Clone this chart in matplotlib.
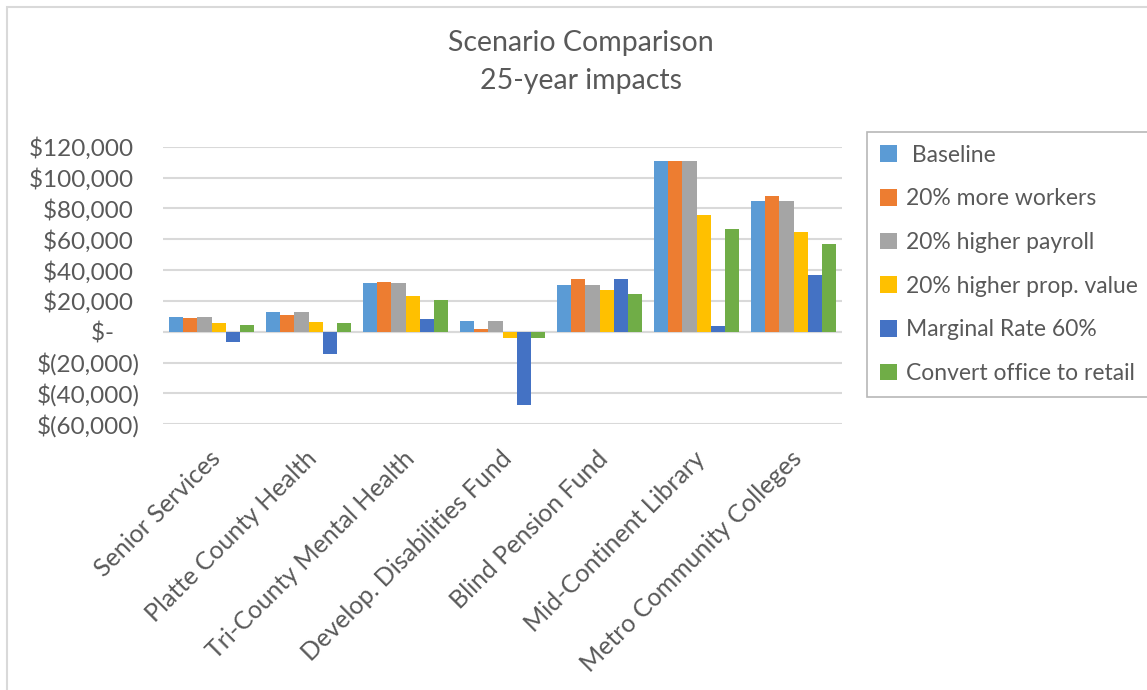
import numpy as np
import matplotlib
matplotlib.use('Agg')
import matplotlib.pyplot as plt
import matplotlib.transforms as mtransforms
from matplotlib.patches import Rectangle

categories = ['Senior Services', 'Platte County Health', 'Tri-County Mental Health',
              'Develop. Disabilities Fund', 'Blind Pension Fund',
              'Mid-Continent Library', 'Metro Community Colleges']

series_names = [' Baseline', '20% more workers', '20% higher payroll',
                '20% higher prop. value', 'Marginal Rate 60%',
                'Convert office to retail']

baseline   = [9700, 13100, 31500, 6700, 30200, 110500, 84700]
more_work  = [8800, 11000, 32300, 1900, 34300, 110500, 88100]
higher_pay = [9700, 13100, 31500, 6700, 30200, 110500, 84700]
prop_value = [5600, 6200, 23000, -4300, 27400, 75900, 64700]
marginal60 = [-6700, -14200, 8200, -47600, 34300, 3900, 37100]
office_ret = [4700, 5400, 20300, -4300, 24600, 66800, 56900]

series = [baseline, more_work, higher_pay, prop_value, marginal60, office_ret]
colors = ['#5B9BD5', '#ED7D31', '#A5A5A5', '#FFC000', '#4472C4', '#70AD47']

yticks = [-60000, -40000, -20000, 0, 20000, 40000, 60000, 80000, 100000, 120000]

text_col = '#595959'
font = 'Lato'


def acct(v):
    # Excel accounting style
    if v == 0:
        return '$-    '
    if v < 0:
        return '$({:,})'.format(-v)
    return '${:,} '.format(v)


fig = plt.figure(figsize=(11.47, 6.9), dpi=100)
fig.patch.set_facecolor('white')

# chart border (only left/top are inside the picture)
fig.add_artist(Rectangle((7 / 1147, -0.05), 1.2, 1 - 7 / 690 + 0.05,
                         transform=fig.transFigure, fill=False,
                         edgecolor='#D9D9D9', lw=1.5))

ax = fig.add_axes([163 / 1147, 1 - 424.3 / 690, 679 / 1147, 277.6 / 690])

x = np.arange(len(categories))
n = len(series)
bw = 0.885 / n
for i, (vals, c, name) in enumerate(zip(series, colors, series_names)):
    ax.bar(x - 0.885 / 2 + bw * (i + 0.5), vals, width=bw, color=c,
           label=name, zorder=3)

ax.set_xlim(-0.5, len(categories) - 0.5)
ax.set_ylim(-60000, 120000)
ax.set_yticks(yticks)
ax.set_yticklabels([acct(v) for v in yticks], fontsize=17.5,
                   color=text_col, family=font)
ax.yaxis.grid(True, color='#D9D9D9', lw=1.5, zorder=0)
ax.axhline(0, color='#D9D9D9', lw=1.5, zorder=2)
for s in ax.spines.values():
    s.set_visible(False)
ax.tick_params(axis='both', length=0)
ax.tick_params(axis='y', pad=17)

ax.set_xticks(x)
ax.set_xticklabels(categories, rotation=45, ha='right', va='center',
                   rotation_mode='anchor', fontsize=18, color=text_col,
                   family=font)
ax.tick_params(axis='x', pad=22)
offset = mtransforms.ScaledTranslation(5 / 100, 0, fig.dpi_scale_trans)
for lab in ax.get_xticklabels():
    lab.set_transform(lab.get_transform() + offset)

fig.text(581 / 1147, 1 - 43 / 690, 'Scenario Comparison', ha='center',
         va='center', fontsize=20.5, color=text_col, family=font)
fig.text(581 / 1147, 1 - 81 / 690, '25-year impacts', ha='center',
         va='center', fontsize=20.5, color=text_col, family=font)

leg = ax.legend(loc='upper left', bbox_to_anchor=(867 / 1147, 1 - 132 / 690),
                bbox_transform=fig.transFigure, frameon=True, fancybox=False,
                prop={'family': font, 'size': 16.5}, labelcolor=text_col,
                handlelength=0.75, handleheight=0.75, handletextpad=0.4,
                labelspacing=0.99, borderpad=0.55, borderaxespad=0)
leg.get_frame().set_edgecolor('#A6A6A6')
leg.get_frame().set_linewidth(1.2)

fig.savefig('out.png', dpi=100, facecolor='white')
